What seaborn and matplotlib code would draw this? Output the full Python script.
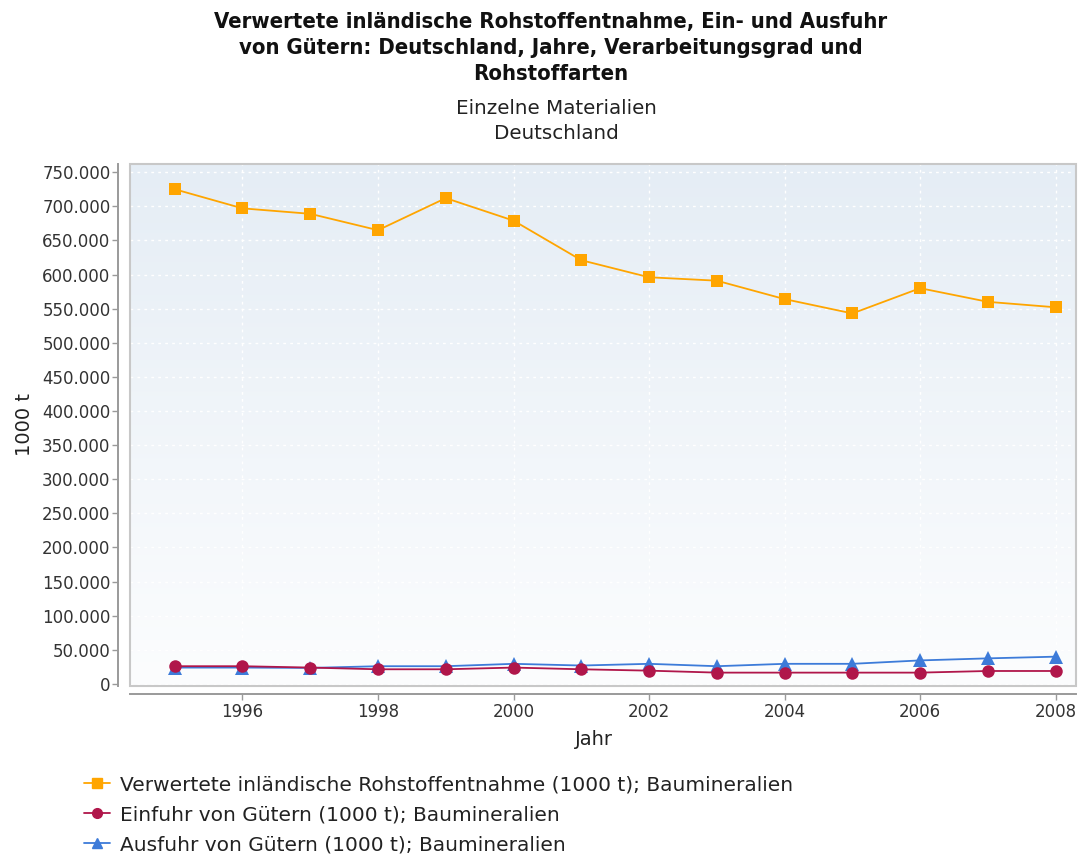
import numpy as np
import pandas as pd
import seaborn as sns
import matplotlib
matplotlib.use("Agg")
import matplotlib.pyplot as plt
from matplotlib.ticker import FuncFormatter, MultipleLocator
from matplotlib.patches import Rectangle
from matplotlib.lines import Line2D

# Data in 1000 t, Baumineralien, Germany
years = [1995, 1996, 1997, 1998, 1999, 2000, 2001, 2002, 2003, 2004, 2005, 2006, 2007, 2008]
entnahme = [725000, 697000, 689000, 665000, 712000, 679000, 621000,
            596000, 591000, 564000, 543000, 580000, 560000, 552000]
einfuhr = [26000, 26000, 24000, 21500, 21500, 24000, 21500,
           19500, 16600, 16600, 16600, 16600, 19000, 19000]
ausfuhr = [24000, 24000, 23500, 26000, 26000, 29500, 27000,
           29500, 26000, 29500, 29500, 34500, 37500, 40000]

series_names = [
    "Verwertete inländische Rohstoffentnahme (1000 t); Baumineralien",
    "Einfuhr von Gütern (1000 t); Baumineralien",
    "Ausfuhr von Gütern (1000 t); Baumineralien",
]
title_text = ("Verwertete inländische Rohstoffentnahme, Ein- und Ausfuhr\n"
              "von Gütern: Deutschland, Jahre, Verarbeitungsgrad und\n"
              "Rohstoffarten")
subtitle_text = "Einzelne Materialien\nDeutschland"

sns.set_theme(style="white")
plt.rcParams["font.family"] = ["DejaVu Sans"]

W, H = 1088, 856
fig = plt.figure(figsize=(W / 100, H / 100), dpi=100)
ax = fig.add_axes([130 / W, 1 - 686 / H, (1076 - 130) / W, (686 - 164) / H])

# gradient plot background
grad = np.linspace(0, 1, 256).reshape(-1, 1)
top_c = np.array([229, 237, 245]) / 255
bot_c = np.array([252, 253, 254]) / 255
img = top_c[None, None, :] * (1 - grad[..., None]) + bot_c[None, None, :] * grad[..., None]
ax.imshow(img, extent=[0, 1, 0, 1], transform=ax.transAxes, aspect="auto", zorder=0)

colors = {"ent": "#FFA500", "ein": "#B0164A", "aus": "#3D7BD9"}

sns.lineplot(x=years, y=ausfuhr, ax=ax, color=colors["aus"], marker="^",
             markersize=9.5, markeredgewidth=0, linewidth=1.3, zorder=3)
sns.lineplot(x=years, y=einfuhr, ax=ax, color=colors["ein"], marker="o",
             markersize=9, markeredgewidth=0, linewidth=1.3, zorder=4)
sns.lineplot(x=years, y=entnahme, ax=ax, color=colors["ent"], marker="s",
             markersize=9, markeredgewidth=0, linewidth=1.3, zorder=5)

ax.set_xlim(1994.34, 2008.3)
ax.set_ylim(-3000, 762000)
ax.xaxis.set_major_locator(MultipleLocator(2))
ax.yaxis.set_major_locator(MultipleLocator(50000))
ax.yaxis.set_major_formatter(FuncFormatter(lambda v, p: f"{int(round(v)):,}".replace(",", ".")))

ax.grid(True, color="white", linestyle=(0, (2, 3)), linewidth=1.0, zorder=1)
ax.set_axisbelow(True)

# plot area frame
for s in ["top", "right"]:
    ax.spines[s].set_visible(False)
ax.add_patch(Rectangle((0, 0), 1, 1, transform=ax.transAxes, fill=False,
                       edgecolor="#c8c8c8", linewidth=1.5, zorder=6, clip_on=False))
ax.spines["left"].set_position(("outward", 9))
ax.spines["bottom"].set_position(("outward", 6))
for s in ["left", "bottom"]:
    ax.spines[s].set_color("#9a9a9a")
    ax.spines[s].set_linewidth(1.4)

ax.tick_params(axis="both", which="major", length=4, width=1, color="#9a9a9a",
               labelsize=12, labelcolor="#333333", pad=2, left=True, bottom=True)
ax.tick_params(axis="y", pad=1)
ax.set_xlabel("Jahr", fontsize=14, color="#222222", labelpad=10)
ax.xaxis.set_label_coords(0.49, -0.085)
ax.set_ylabel("1000 t", fontsize=14, color="#222222", labelpad=6)

fig.text(0.506, 1 - 48 / H, title_text, ha="center", va="center", fontsize=15.8,
         fontweight="bold", fontstretch="condensed", linespacing=1.4, color="#111111")
fig.text(0.511, 1 - 121 / H, subtitle_text, ha="center", va="center", fontsize=14.3,
         linespacing=1.4, color="#222222")

handles = [
    Line2D([], [], color=colors["ent"], marker="s", markersize=7, linewidth=1.3),
    Line2D([], [], color=colors["ein"], marker="o", markersize=7, linewidth=1.3),
    Line2D([], [], color=colors["aus"], marker="^", markersize=7, linewidth=1.3),
]
fig.legend(handles, series_names, loc="upper left", bbox_to_anchor=(76 / W, 1 - 767 / H),
           frameon=False, fontsize=14.5, handlelength=1.3, handletextpad=0.5,
           labelspacing=0.55, borderaxespad=0, labelcolor="#222222")

fig.savefig("out.png", dpi=100)
